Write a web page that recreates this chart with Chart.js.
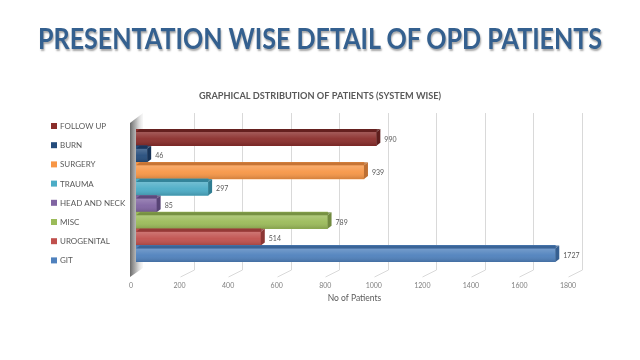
<!DOCTYPE html>
<html>
<head>
<meta charset="utf-8">
<title>OPD Patients</title>
<script src="https://cdn.jsdelivr.net/npm/chart.js"></script>
<style>
  html, body { margin: 0; padding: 0; background: #fff; }
  #wrap { position: relative; width: 640px; height: 360px; overflow: hidden; }
  #chart { position: absolute; left: 0; top: 0; }
  #heading {
    position: absolute; left: 0; top: 21px; width: 640px; margin: 0;
    text-align: center; white-space: nowrap;
    font-family: Lato, "Open Sans", sans-serif; font-weight: 700; font-size: 28px; line-height: 34px;
    color: #34608f; text-shadow: 1px 2px 2px rgba(0,0,0,0.35);
  }
  #heading span { display: inline-block; transform-origin: center center; }
</style>
</head>
<body>
<div id="wrap">
  <canvas id="chart" width="640" height="360"></canvas>
  <h1 id="heading"><span>PRESENTATION WISE DETAIL OF OPD PATIENTS</span></h1>
</div>
<script>
// values (top bar first)
const categories = ['FOLLOW UP', 'BURN', 'SURGERY', 'TRAUMA', 'HEAD AND NECK', 'MISC', 'UROGENITAL', 'GIT'];
const patients = [990, 46, 939, 297, 85, 789, 514, 1727];
const barColors = ['#8a2d2b', '#244c7c', '#f79646', '#4bacc6', '#8064a2', '#9bbb59', '#c0504d', '#4f81bd'];
const faceColors = ['#5e1e1d', '#173358', '#bd6f33', '#2f7d92', '#574475', '#718a3f', '#8c3634', '#365f91'];
const xTicks = [0, 200, 400, 600, 800, 1000, 1200, 1400, 1600, 1800];

const FONT = 'Lato, "Open Sans", sans-serif';

// squeeze the big heading to the width it has in the slide
const hs = document.querySelector('#heading span');
hs.style.transform = 'scaleX(' + (564 / hs.offsetWidth) + ')';

// back wall, floor lines and the grey side wall
const wallPlugin = {
  id: 'wall3d',
  beforeDatasetsDraw(chart) {
    const ctx = chart.ctx;
    const xs = chart.scales.x;
    const { top, bottom, left } = chart.chartArea;
    ctx.save();
    ctx.strokeStyle = '#d9d9d9';
    ctx.lineWidth = 1;
    xTicks.forEach(v => {
      if (v === 0) return;
      const px = Math.round(xs.getPixelForValue(v)) + 9.5;
      ctx.beginPath();
      ctx.moveTo(px, top - 16);
      ctx.lineTo(px, bottom + 8);
      ctx.lineTo(px - 14, bottom + 15);
      ctx.stroke();
    });
    const g = ctx.createLinearGradient(left - 7, 0, left + 8, 0);
    g.addColorStop(0, 'rgba(70,70,70,0.9)');
    g.addColorStop(0.5, 'rgba(160,160,160,0.7)');
    g.addColorStop(1, 'rgba(240,240,240,0.2)');
    ctx.fillStyle = g;
    ctx.beginPath();
    ctx.moveTo(left - 6, top - 6);
    ctx.lineTo(left + 7, top - 16);
    ctx.lineTo(left + 7, bottom + 6);
    ctx.lineTo(left - 6, bottom + 15);
    ctx.closePath();
    ctx.fill();
    ctx.restore();
  }
};

// top and side faces, gloss and value labels on each bar
const barPlugin = {
  id: 'bars3d',
  afterDatasetsDraw(chart) {
    const ctx = chart.ctx;
    const meta = chart.getDatasetMeta(0);
    const t = 3, d = 4;
    ctx.save();
    meta.data.forEach((bar, i) => {
      const p = bar.getProps(['x', 'y', 'base', 'height'], true);
      const top = p.y - p.height / 2, bot = p.y + p.height / 2;
      const x0 = p.base, x1 = p.x;
      const g = ctx.createLinearGradient(0, top + t, 0, bot);
      g.addColorStop(0, 'rgba(255,255,255,0.22)');
      g.addColorStop(0.5, 'rgba(255,255,255,0.05)');
      g.addColorStop(1, 'rgba(0,0,0,0.15)');
      ctx.fillStyle = g;
      ctx.fillRect(x0, top + t, x1 - x0, bot - top - t);
      ctx.fillStyle = faceColors[i];
      ctx.globalAlpha = 0.85;
      ctx.beginPath();
      ctx.moveTo(x0, top + t);
      ctx.lineTo(x1, top + t);
      ctx.lineTo(x1 + d, top);
      ctx.lineTo(x0 + d, top);
      ctx.closePath();
      ctx.fill();
      ctx.globalAlpha = 1;
      ctx.beginPath();
      ctx.moveTo(x1, top + t);
      ctx.lineTo(x1 + d, top);
      ctx.lineTo(x1 + d, bot - t);
      ctx.lineTo(x1, bot);
      ctx.closePath();
      ctx.fill();
      ctx.fillStyle = '#595959';
      ctx.font = '7px ' + FONT;
      ctx.textAlign = 'left';
      ctx.textBaseline = 'middle';
      ctx.fillText(String(patients[i]), x1 + d + 4, p.y + 2);
    });
    ctx.restore();
  }
};

// legend on the left, same order as the bars
const legendPlugin = {
  id: 'sideLegend',
  afterDraw(chart) {
    const ctx = chart.ctx;
    ctx.save();
    ctx.font = '8px ' + FONT;
    ctx.textBaseline = 'middle';
    ctx.textAlign = 'left';
    categories.forEach((c, i) => {
      const y = 126 + i * 19.2;
      ctx.fillStyle = barColors[i];
      ctx.fillRect(51, y - 3, 6, 6);
      ctx.fillStyle = '#595959';
      ctx.fillText(c, 60, y + 0.5);
    });
    ctx.restore();
  }
};

new Chart(document.getElementById('chart'), {
  type: 'bar',
  data: {
    labels: categories,
    datasets: [{
      label: 'No of Patients',
      data: patients,
      backgroundColor: barColors,
      categoryPercentage: 1,
      barPercentage: 1
    }]
  },
  options: {
    indexAxis: 'y',
    responsive: false,
    animation: false,
    layout: { padding: { left: 67, right: 67, top: 0, bottom: 57 } },
    plugins: {
      legend: { display: false },
      tooltip: { enabled: false },
      title: {
        display: true,
        text: 'GRAPHICAL DSTRIBUTION OF PATIENTS (SYSTEM WISE)',
        color: '#595959',
        font: { family: FONT, size: 9.2, weight: 'bold' },
        padding: { top: 91, bottom: 27 }
      }
    },
    scales: {
      // room for the legend, the category names live there
      y: {
        display: true,
        afterFit: axis => { axis.width = 69; },
        grid: { display: false, drawTicks: false },
        border: { display: false },
        ticks: { display: false }
      },
      x: {
        min: 0,
        max: 1800,
        afterBuildTicks: axis => { axis.ticks = xTicks.map(v => ({ value: v })); },
        afterFit: axis => { axis.height = 41; },
        grid: { display: false, drawTicks: false },
        border: { display: false },
        ticks: {
          color: '#7f7f7f', font: { family: FONT, size: 7 }, padding: 20, labelOffset: -5, maxRotation: 0,
          callback: v => String(v)
        },
        title: {
          display: true,
          text: 'No of Patients',
          color: '#595959',
          font: { family: FONT, size: 8.5 },
          padding: { top: 2, bottom: 0 }
        }
      }
    }
  },
  plugins: [wallPlugin, barPlugin, legendPlugin]
});
</script>
</body>
</html>
